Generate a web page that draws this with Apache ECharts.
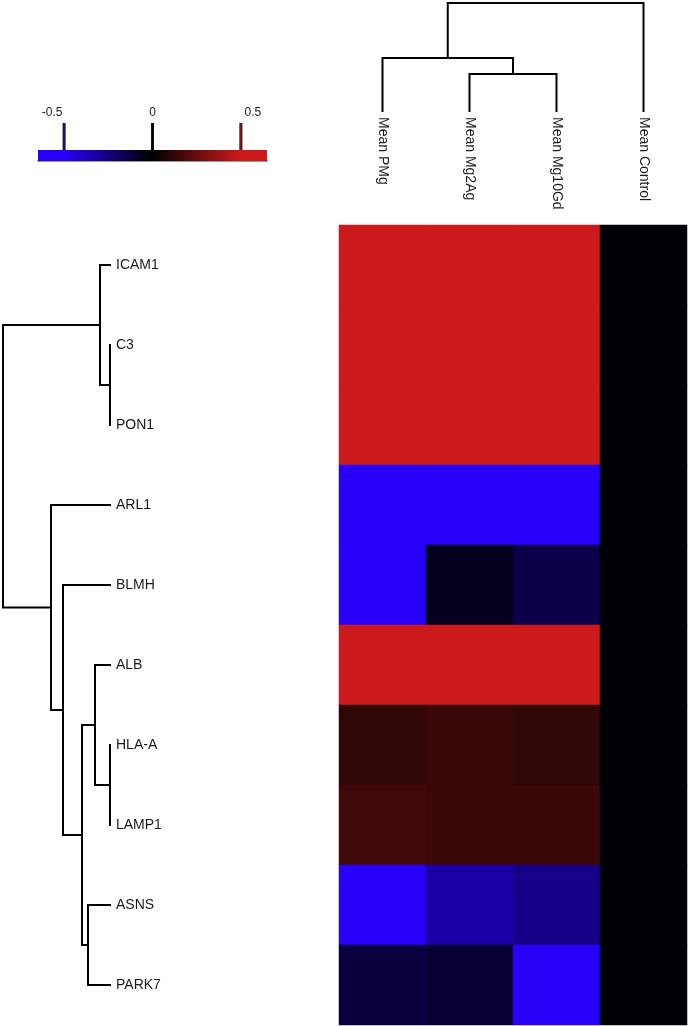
<!DOCTYPE html>
<html>
<head>
<meta charset="utf-8">
<script src="https://cdn.jsdelivr.net/npm/echarts@6/dist/echarts.min.js"></script>
<style>
  html, body { margin: 0; padding: 0; background: #fff; }
  #chart { width: 688px; height: 1026px; }
</style>
</head>
<body>
<div id="chart"></div>
<script>
const rowNames = ['ICAM1', 'C3', 'PON1', 'ARL1', 'BLMH', 'ALB', 'HLA-A', 'LAMP1', 'ASNS', 'PARK7'];
const colNames = ['Mean PMg', 'Mean Mg2Ag', 'Mean Mg10Gd', 'Mean Control'];

// values per column, same order as rowNames
const meanPMg     = [0.44, 0.44, 0.44, -0.44, -0.44, 0.44, 0.104, 0.138, -0.44, -0.113];
const meanMg2Ag   = [0.44, 0.44, 0.44, -0.44, -0.053, 0.44, 0.125, 0.125, -0.298, -0.089];
const meanMg10Gd  = [0.44, 0.44, 0.44, -0.44, -0.128, 0.44, 0.104, 0.125, -0.241, -0.44];
const meanControl = [-0.01, -0.01, -0.01, -0.01, -0.01, -0.01, -0.01, -0.01, -0.01, -0.01];

// hclust style merges: negative = leaf (-(index+1)), positive = earlier merge (1-based)
const rowMerge  = [[-2, -3], [-1, 1], [-7, -8], [-6, 3], [-9, -10], [4, 5], [-5, 6], [-4, 7], [2, 8]];
const rowHeight = [1, 11, 1, 16, 23, 29, 48, 60, 108];
const colMerge  = [[-2, -3], [-1, 1], [2, -4]];
const colHeight = [38, 54, 109];

const legendTicks = [-0.5, 0, 0.5];
const legendMarks = [-0.44, 0, 0.44];

const BLUE = '#2800F8', BLACK = '#000000', RED = '#CC1A1C';
const vMin = -0.44, vMax = 0.44;       // colour scale limits
const barMin = -0.57, barMax = 0.57;   // legend axis extent
const FONT = "'Liberation Sans', Arial, sans-serif";

const columns = [meanPMg, meanMg2Ag, meanMg10Gd, meanControl];
const heatData = [];
columns.forEach((col, c) => col.forEach((v, r) => heatData.push([c, r, v])));

// turn merges into U shaped links: [hA, posA, hB, posB, h]
function dendroLinks(merge, heights) {
  const nodes = [];
  const get = k => (k < 0 ? { pos: -k - 1, h: 0 } : nodes[k - 1]);
  return merge.map((m, i) => {
    const a = get(m[0]), b = get(m[1]), h = heights[i];
    nodes.push({ pos: (a.pos + b.pos) / 2, h: h });
    return [a.h, a.pos, b.h, b.pos, h];
  });
}
const rowLinks = dendroLinks(rowMerge, rowHeight);
const colLinks = dendroLinks(colMerge, colHeight);

const linkStyle = { stroke: '#000', lineWidth: 2, fill: null };

function hexRgb(h) { return [1, 3, 5].map(i => parseInt(h.substr(i, 2), 16)); }
function scaleColor(v) {
  const t = Math.max(-1, Math.min(1, v >= 0 ? v / vMax : v / -vMin));
  const from = hexRgb(BLACK), to = hexRgb(t >= 0 ? RED : BLUE), a = Math.abs(t);
  const c = from.map((f, i) => Math.round(f + (to[i] - f) * a));
  return 'rgb(' + c.join(',') + ')';
}
const off = v => (v - barMin) / (barMax - barMin);

const chart = echarts.init(document.getElementById('chart'));
chart.setOption({
  animation: false,
  backgroundColor: '#fff',
  textStyle: { fontFamily: FONT },
  grid: [
    { left: 339, top: 225, width: 348, height: 800, outerBoundsMode: 'none' },
    { left: 339, top: 3, width: 348, height: 109, outerBoundsMode: 'none' },
    { left: 3, top: 225, width: 108, height: 800, outerBoundsMode: 'none' },
    { left: 38, top: 123, width: 229, height: 38, outerBoundsMode: 'none' }
  ],
  xAxis: [
    { type: 'category', gridIndex: 0, data: colNames, show: false },
    {
      type: 'value', gridIndex: 1, min: -0.5, max: 3.5, position: 'bottom',
      axisLine: { show: false }, axisTick: { show: false }, splitLine: { show: false },
      axisLabel: {
        customValues: [0, 1, 2, 3], formatter: v => colNames[v], rotate: -90, margin: 5,
        fontSize: 14, color: '#1a1a1a', fontFamily: FONT
      }
    },
    { type: 'value', gridIndex: 2, min: 0, max: 108, inverse: true, show: false },
    {
      type: 'value', gridIndex: 3, min: barMin, max: barMax, position: 'top',
      axisLine: { show: true, lineStyle: { color: '#999', width: 2 } },
      axisTick: { show: true, customValues: legendTicks, length: 5, lineStyle: { color: '#999', width: 2 } },
      splitLine: { show: false },
      axisLabel: { customValues: legendTicks, margin: 4, fontSize: 12, color: '#222', fontFamily: FONT }
    }
  ],
  yAxis: [
    { type: 'category', gridIndex: 0, data: rowNames, inverse: true, show: false },
    { type: 'value', gridIndex: 1, min: 0, max: 109, show: false },
    {
      type: 'value', gridIndex: 2, min: -0.5, max: 9.5, inverse: true, position: 'right',
      axisLine: { show: false }, axisTick: { show: false }, splitLine: { show: false },
      axisLabel: {
        customValues: rowNames.map((n, i) => i), formatter: v => rowNames[v], margin: 5,
        padding: [6, 0, 0, 0], fontSize: 14, color: '#1a1a1a', fontFamily: FONT
      }
    },
    { type: 'value', gridIndex: 3, min: 0, max: 1, show: false }
  ],
  visualMap: {
    show: false, type: 'continuous', seriesIndex: 0, dimension: 2,
    min: vMin, max: vMax, inRange: { color: [BLUE, BLACK, RED] }
  },
  series: [
    {
      type: 'heatmap', xAxisIndex: 0, yAxisIndex: 0, data: heatData,
      itemStyle: { borderWidth: 0 }, emphasis: { disabled: true }
    },
    {
      // row dendrogram
      type: 'custom', xAxisIndex: 2, yAxisIndex: 2, data: rowLinks, silent: true,
      renderItem: (params, api) => {
        const hA = api.value(0), pA = api.value(1), hB = api.value(2), pB = api.value(3), h = api.value(4);
        return {
          type: 'polyline',
          shape: { points: [api.coord([hA, pA]), api.coord([h, pA]), api.coord([h, pB]), api.coord([hB, pB])] },
          style: linkStyle
        };
      }
    },
    {
      // column dendrogram
      type: 'custom', xAxisIndex: 1, yAxisIndex: 1, data: colLinks, silent: true,
      renderItem: (params, api) => {
        const hA = api.value(0), pA = api.value(1), hB = api.value(2), pB = api.value(3), h = api.value(4);
        return {
          type: 'polyline',
          shape: { points: [api.coord([pA, hA]), api.coord([pA, h]), api.coord([pB, h]), api.coord([pB, hB])] },
          style: linkStyle
        };
      }
    },
    {
      // legend colour bar
      type: 'custom', xAxisIndex: 3, yAxisIndex: 3, data: [[0]], silent: true,
      renderItem: (params, api) => {
        const p0 = api.coord([barMin, 0.29]), p1 = api.coord([barMax, 0]);
        return {
          type: 'rect',
          shape: { x: p0[0], y: p0[1], width: p1[0] - p0[0], height: p1[1] - p0[1] },
          style: {
            fill: new echarts.graphic.LinearGradient(0, 0, 1, 0, [
              { offset: 0, color: BLUE },
              { offset: off(vMin), color: BLUE },
              { offset: off(0), color: BLACK },
              { offset: off(vMax), color: RED },
              { offset: 1, color: RED }
            ])
          }
        };
      }
    },
    {
      // legend markers
      type: 'custom', xAxisIndex: 3, yAxisIndex: 3, data: legendMarks.map(v => [v]), silent: true,
      renderItem: (params, api) => {
        const v = api.value(0);
        const a = api.coord([v, 0.29]), b = api.coord([v, 1]);
        return {
          type: 'group',
          children: [
            { type: 'line', shape: { x1: a[0], y1: a[1], x2: b[0], y2: b[1] }, style: { stroke: '#111', lineWidth: 3 } },
            { type: 'line', shape: { x1: a[0], y1: a[1], x2: b[0], y2: b[1] }, style: { stroke: scaleColor(v), lineWidth: 1 } }
          ]
        };
      }
    }
  ]
});
</script>
</body>
</html>
